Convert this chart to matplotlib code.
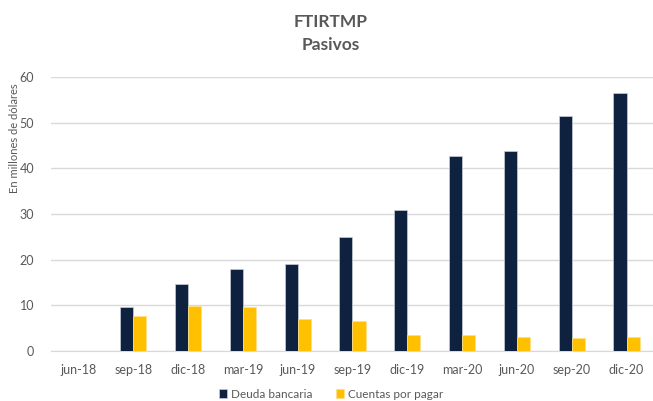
import matplotlib
matplotlib.use('Agg')
import matplotlib.pyplot as plt
import numpy as np

categories = ['jun-18', 'sep-18', 'dic-18', 'mar-19', 'jun-19', 'sep-19',
              'dic-19', 'mar-20', 'jun-20', 'sep-20', 'dic-20']
deuda_bancaria = [0, 9.7, 14.6, 18.0, 19.0, 24.9, 30.9, 42.8, 43.7, 51.5, 56.4]
cuentas_por_pagar = [0, 7.7, 9.9, 9.6, 6.9, 6.5, 3.6, 3.6, 3.0, 2.8, 3.0]
y_ticks = [0, 10, 20, 30, 40, 50, 60]

plt.rcParams['font.family'] = ['Lato', 'DejaVu Sans']
gray = '#595959'

fig = plt.figure(figsize=(6.53, 4.01), dpi=100)
ax = fig.add_axes([51 / 653, 50 / 401, 603 / 653, 274 / 401])

x = np.arange(len(categories))
w = 0.24
ax.bar(x - w / 2, deuda_bancaria, w, color='#0E2240', edgecolor='#C9CED8',
       linewidth=0.5, label='Deuda bancaria', zorder=3)
ax.bar(x + w / 2, cuentas_por_pagar, w, color='#FFC000', edgecolor='#FFE08A',
       linewidth=0.5, label='Cuentas por pagar', zorder=3)

ax.set_xlim(-0.5, len(categories) - 0.5)
ax.set_ylim(0, 60)
ax.set_yticks(y_ticks)
ax.set_xticks(x)
ax.set_xticklabels(categories)
ax.tick_params(axis='both', length=0, labelsize=9, colors=gray)
ax.tick_params(axis='x', pad=9)
ax.tick_params(axis='y', pad=12)
ax.grid(axis='y', color='#D9D9D9', linewidth=1, zorder=0)
for s in ['top', 'right', 'left']:
    ax.spines[s].set_visible(False)
ax.spines['bottom'].set_color('#D9D9D9')

fig.text(15 / 653, 1 - 138 / 401, 'En millones de dólares', rotation=90,
         ha='center', va='center', fontsize=8, color=gray)
fig.text(331 / 653, 1 - 22 / 401, 'FTIRTMP', ha='center', va='center',
         fontsize=12.5, fontweight='bold', color=gray)
fig.text(331 / 653, 1 - 45 / 401, 'Pasivos', ha='center', va='center',
         fontsize=12.5, fontweight='bold', color=gray)

fig.legend(loc='center', bbox_to_anchor=(331 / 653, 1 - 394 / 401), ncol=2,
           frameon=False, fontsize=8.5, labelcolor=gray, handlelength=0.7,
           handleheight=0.7, handletextpad=0.3, columnspacing=2.0)

fig.savefig('out.png', dpi=100, facecolor='white')
